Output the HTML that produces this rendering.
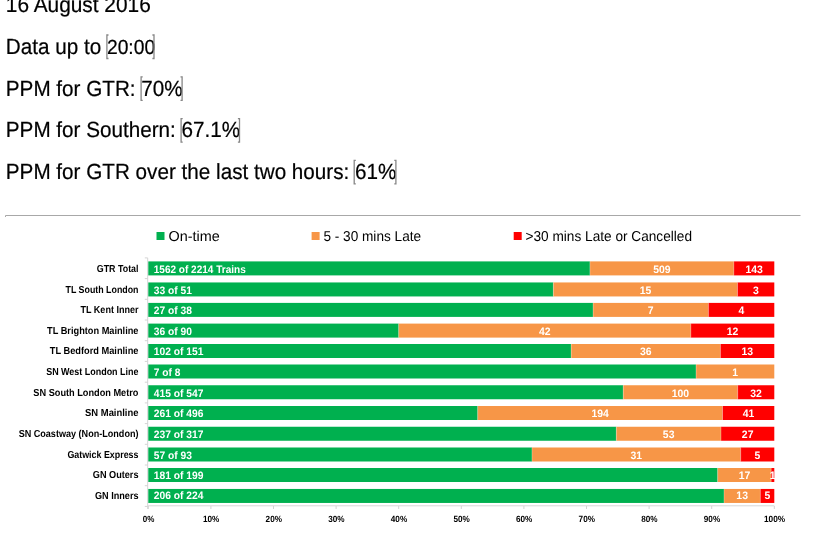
<!DOCTYPE html>
<html><head><meta charset="utf-8"><title>PPM report</title>
<style>html,body{margin:0;padding:0;background:#fff;overflow:hidden}svg{display:block}</style></head>
<body>
<svg width="830" height="540" viewBox="0 0 830 540" font-family="'Liberation Sans', sans-serif" text-rendering="geometricPrecision">
<defs><filter id="soft" x="0" y="0" width="830" height="540" filterUnits="userSpaceOnUse"><feGaussianBlur stdDeviation="0.38"/></filter><filter id="soft2" x="0" y="0" width="830" height="230" filterUnits="userSpaceOnUse"><feGaussianBlur stdDeviation="0.3"/></filter></defs>
<rect width="830" height="540" fill="#fff"/>
<g filter="url(#soft2)">
<g font-size="21.9" fill="#000" stroke="#000" stroke-width="0.22">
<text transform="translate(5.8,11.9) scale(0.9528,1)">16 August 2016</text>
<text transform="translate(5.8,53.7) scale(0.9444,1)">Data up to <tspan font-size="20.4">20:00</tspan></text>
<text transform="translate(5.8,95.5) scale(0.9444,1)">PPM for GTR: 70%</text>
<text transform="translate(5.8,137.3) scale(0.9444,1)">PPM for Southern: 67.1%</text>
<text transform="translate(5.8,179.1) scale(0.9444,1)">PPM for GTR over the last two hours: 61%</text>
</g>
<path d="M108.5 35.0H106.9V58.5H108.5" fill="none" stroke="#878787" stroke-width="1.3"/>
<path d="M152.4 35.0H154.0V58.5H152.4" fill="none" stroke="#878787" stroke-width="1.3"/>
<path d="M142.7 76.8H141.1V100.3H142.7" fill="none" stroke="#878787" stroke-width="1.3"/>
<path d="M180.5 76.8H182.1V100.3H180.5" fill="none" stroke="#878787" stroke-width="1.3"/>
<path d="M182.7 118.6H181.1V142.1H182.7" fill="none" stroke="#878787" stroke-width="1.3"/>
<path d="M237.9 118.6H239.5V142.1H237.9" fill="none" stroke="#878787" stroke-width="1.3"/>
<path d="M355.8 160.4H354.2V183.9H355.8" fill="none" stroke="#878787" stroke-width="1.3"/>
<path d="M394.3 160.4H395.9V183.9H394.3" fill="none" stroke="#878787" stroke-width="1.3"/>
<path d="M5.5 217V215.5H800.5" stroke="#a8a8a8" stroke-width="1" fill="none"/>
</g>
<g id="chart" filter="url(#soft)">
<rect x="156.5" y="232" width="8" height="8" fill="#00b050"/>
<text x="168.50" y="240.90" text-anchor="start" font-size="14.3" font-weight="normal" fill="#000" textLength="51.19" lengthAdjust="spacingAndGlyphs">On-time</text>
<rect x="311.6" y="232" width="8" height="8" fill="#f79646"/>
<text x="323.40" y="240.90" text-anchor="start" font-size="14.3" font-weight="normal" fill="#000" textLength="97.69" lengthAdjust="spacingAndGlyphs">5 - 30 mins Late</text>
<rect x="513.7" y="232" width="8" height="8" fill="#ff0000"/>
<text x="525.50" y="240.90" text-anchor="start" font-size="14.3" font-weight="normal" fill="#000" textLength="166.53" lengthAdjust="spacingAndGlyphs">&gt;30 mins Late or Cancelled</text>
<path d="M147.7 257.9V509" stroke="#d4d4d4" stroke-width="1" fill="none"/>
<path d="M147.7 505.8H774.3" stroke="#d8d8d8" stroke-width="1" fill="none"/>
<path d="M144.8 257.9H147.7M144.8 278.6H147.7M144.8 299.3H147.7M144.8 320.0H147.7M144.8 340.7H147.7M144.8 361.4H147.7M144.8 382.2H147.7M144.8 402.9H147.7M144.8 423.6H147.7M144.8 444.3H147.7M144.8 465.0H147.7M144.8 485.7H147.7M144.8 506.4H147.7M148.3 506V509M210.9 506V509M273.5 506V509M336.1 506V509M398.7 506V509M461.3 506V509M523.9 506V509M586.5 506V509M649.1 506V509M711.7 506V509M774.3 506V509" stroke="#d4d4d4" stroke-width="1" fill="none"/>
<text x="148.60" y="522.00" text-anchor="middle" font-size="9.0" font-weight="bold" fill="#000" textLength="11.61" lengthAdjust="spacingAndGlyphs">0%</text>
<text x="211.20" y="522.00" text-anchor="middle" font-size="9.0" font-weight="bold" fill="#000" textLength="16.38" lengthAdjust="spacingAndGlyphs">10%</text>
<text x="273.80" y="522.00" text-anchor="middle" font-size="9.0" font-weight="bold" fill="#000" textLength="16.38" lengthAdjust="spacingAndGlyphs">20%</text>
<text x="336.40" y="522.00" text-anchor="middle" font-size="9.0" font-weight="bold" fill="#000" textLength="16.38" lengthAdjust="spacingAndGlyphs">30%</text>
<text x="399.00" y="522.00" text-anchor="middle" font-size="9.0" font-weight="bold" fill="#000" textLength="16.38" lengthAdjust="spacingAndGlyphs">40%</text>
<text x="461.60" y="522.00" text-anchor="middle" font-size="9.0" font-weight="bold" fill="#000" textLength="16.38" lengthAdjust="spacingAndGlyphs">50%</text>
<text x="524.20" y="522.00" text-anchor="middle" font-size="9.0" font-weight="bold" fill="#000" textLength="16.38" lengthAdjust="spacingAndGlyphs">60%</text>
<text x="586.80" y="522.00" text-anchor="middle" font-size="9.0" font-weight="bold" fill="#000" textLength="16.38" lengthAdjust="spacingAndGlyphs">70%</text>
<text x="649.40" y="522.00" text-anchor="middle" font-size="9.0" font-weight="bold" fill="#000" textLength="16.38" lengthAdjust="spacingAndGlyphs">80%</text>
<text x="712.00" y="522.00" text-anchor="middle" font-size="9.0" font-weight="bold" fill="#000" textLength="16.38" lengthAdjust="spacingAndGlyphs">90%</text>
<text x="774.60" y="522.00" text-anchor="middle" font-size="9.0" font-weight="bold" fill="#000" textLength="21.14" lengthAdjust="spacingAndGlyphs">100%</text>
<rect x="148.30" y="261.40" width="441.65" height="14.0" fill="#00b050"/>
<rect x="589.95" y="261.40" width="143.92" height="14.0" fill="#f79646"/>
<rect x="733.87" y="261.40" width="40.43" height="14.0" fill="#ff0000"/>
<text x="138.50" y="272.00" text-anchor="end" font-size="10.2" font-weight="bold" fill="#000" textLength="41.73" lengthAdjust="spacingAndGlyphs">GTR Total</text>
<text x="153.80" y="273.00" text-anchor="start" font-size="10.8" font-weight="bold" fill="#fff" textLength="91.92" lengthAdjust="spacingAndGlyphs">1562 of 2214 Trains</text>
<text x="661.91" y="273.00" text-anchor="middle" font-size="10.8" font-weight="bold" fill="#fff" textLength="17.39" lengthAdjust="spacingAndGlyphs">509</text>
<text x="754.08" y="273.00" text-anchor="middle" font-size="10.8" font-weight="bold" fill="#fff" textLength="17.39" lengthAdjust="spacingAndGlyphs">143</text>
<rect x="148.30" y="282.45" width="405.06" height="14.0" fill="#00b050"/>
<rect x="553.36" y="282.45" width="184.12" height="14.0" fill="#f79646"/>
<rect x="737.48" y="282.45" width="36.82" height="14.0" fill="#ff0000"/>
<text x="138.50" y="293.00" text-anchor="end" font-size="10.2" font-weight="bold" fill="#000" textLength="73.00" lengthAdjust="spacingAndGlyphs">TL South London</text>
<text x="153.80" y="294.00" text-anchor="start" font-size="10.8" font-weight="bold" fill="#fff" textLength="38.12" lengthAdjust="spacingAndGlyphs">33 of 51</text>
<text x="645.42" y="294.00" text-anchor="middle" font-size="10.8" font-weight="bold" fill="#fff" textLength="11.59" lengthAdjust="spacingAndGlyphs">15</text>
<text x="755.89" y="294.00" text-anchor="middle" font-size="10.8" font-weight="bold" fill="#fff" textLength="5.80" lengthAdjust="spacingAndGlyphs">3</text>
<rect x="148.30" y="302.90" width="444.79" height="14.0" fill="#00b050"/>
<rect x="593.09" y="302.90" width="115.32" height="14.0" fill="#f79646"/>
<rect x="708.41" y="302.90" width="65.89" height="14.0" fill="#ff0000"/>
<text x="138.50" y="313.00" text-anchor="end" font-size="10.2" font-weight="bold" fill="#000" textLength="58.02" lengthAdjust="spacingAndGlyphs">TL Kent Inner</text>
<text x="153.80" y="314.00" text-anchor="start" font-size="10.8" font-weight="bold" fill="#fff" textLength="38.12" lengthAdjust="spacingAndGlyphs">27 of 38</text>
<text x="650.75" y="314.00" text-anchor="middle" font-size="10.8" font-weight="bold" fill="#fff" textLength="5.80" lengthAdjust="spacingAndGlyphs">7</text>
<text x="741.35" y="314.00" text-anchor="middle" font-size="10.8" font-weight="bold" fill="#fff" textLength="5.80" lengthAdjust="spacingAndGlyphs">4</text>
<rect x="148.30" y="323.60" width="250.40" height="14.0" fill="#00b050"/>
<rect x="398.70" y="323.60" width="292.13" height="14.0" fill="#f79646"/>
<rect x="690.83" y="323.60" width="83.47" height="14.0" fill="#ff0000"/>
<text x="138.50" y="334.00" text-anchor="end" font-size="10.2" font-weight="bold" fill="#000" textLength="91.41" lengthAdjust="spacingAndGlyphs">TL Brighton Mainline</text>
<text x="153.80" y="335.00" text-anchor="start" font-size="10.8" font-weight="bold" fill="#fff" textLength="38.12" lengthAdjust="spacingAndGlyphs">36 of 90</text>
<text x="544.77" y="335.00" text-anchor="middle" font-size="10.8" font-weight="bold" fill="#fff" textLength="11.59" lengthAdjust="spacingAndGlyphs">42</text>
<text x="732.57" y="335.00" text-anchor="middle" font-size="10.8" font-weight="bold" fill="#fff" textLength="11.59" lengthAdjust="spacingAndGlyphs">12</text>
<rect x="148.30" y="344.00" width="422.86" height="14.0" fill="#00b050"/>
<rect x="571.16" y="344.00" width="149.25" height="14.0" fill="#f79646"/>
<rect x="720.41" y="344.00" width="53.89" height="14.0" fill="#ff0000"/>
<text x="138.50" y="354.00" text-anchor="end" font-size="10.2" font-weight="bold" fill="#000" textLength="88.72" lengthAdjust="spacingAndGlyphs">TL Bedford Mainline</text>
<text x="153.80" y="355.00" text-anchor="start" font-size="10.8" font-weight="bold" fill="#fff" textLength="49.72" lengthAdjust="spacingAndGlyphs">102 of 151</text>
<text x="645.78" y="355.00" text-anchor="middle" font-size="10.8" font-weight="bold" fill="#fff" textLength="11.59" lengthAdjust="spacingAndGlyphs">36</text>
<text x="747.35" y="355.00" text-anchor="middle" font-size="10.8" font-weight="bold" fill="#fff" textLength="11.59" lengthAdjust="spacingAndGlyphs">13</text>
<rect x="148.30" y="364.50" width="547.75" height="14.0" fill="#00b050"/>
<rect x="696.05" y="364.50" width="78.25" height="14.0" fill="#f79646"/>
<text x="138.50" y="375.00" text-anchor="end" font-size="10.2" font-weight="bold" fill="#000" textLength="92.33" lengthAdjust="spacingAndGlyphs">SN West London Line</text>
<text x="153.80" y="376.00" text-anchor="start" font-size="10.8" font-weight="bold" fill="#fff" textLength="26.53" lengthAdjust="spacingAndGlyphs">7 of 8</text>
<text x="735.17" y="376.00" text-anchor="middle" font-size="10.8" font-weight="bold" fill="#fff" textLength="5.80" lengthAdjust="spacingAndGlyphs">1</text>
<rect x="148.30" y="385.25" width="474.94" height="14.0" fill="#00b050"/>
<rect x="623.24" y="385.25" width="114.44" height="14.0" fill="#f79646"/>
<rect x="737.68" y="385.25" width="36.62" height="14.0" fill="#ff0000"/>
<text x="138.50" y="396.00" text-anchor="end" font-size="10.2" font-weight="bold" fill="#000" textLength="105.16" lengthAdjust="spacingAndGlyphs">SN South London Metro</text>
<text x="153.80" y="397.00" text-anchor="start" font-size="10.8" font-weight="bold" fill="#fff" textLength="49.72" lengthAdjust="spacingAndGlyphs">415 of 547</text>
<text x="680.46" y="397.00" text-anchor="middle" font-size="10.8" font-weight="bold" fill="#fff" textLength="17.39" lengthAdjust="spacingAndGlyphs">100</text>
<text x="755.99" y="397.00" text-anchor="middle" font-size="10.8" font-weight="bold" fill="#fff" textLength="11.59" lengthAdjust="spacingAndGlyphs">32</text>
<rect x="148.30" y="406.00" width="329.41" height="14.0" fill="#00b050"/>
<rect x="477.71" y="406.00" width="244.85" height="14.0" fill="#f79646"/>
<rect x="722.55" y="406.00" width="51.75" height="14.0" fill="#ff0000"/>
<text x="138.50" y="416.00" text-anchor="end" font-size="10.2" font-weight="bold" fill="#000" textLength="53.41" lengthAdjust="spacingAndGlyphs">SN Mainline</text>
<text x="153.80" y="417.00" text-anchor="start" font-size="10.8" font-weight="bold" fill="#fff" textLength="49.72" lengthAdjust="spacingAndGlyphs">261 of 496</text>
<text x="600.13" y="417.00" text-anchor="middle" font-size="10.8" font-weight="bold" fill="#fff" textLength="17.39" lengthAdjust="spacingAndGlyphs">194</text>
<text x="748.43" y="417.00" text-anchor="middle" font-size="10.8" font-weight="bold" fill="#fff" textLength="11.59" lengthAdjust="spacingAndGlyphs">41</text>
<rect x="148.30" y="426.75" width="468.02" height="14.0" fill="#00b050"/>
<rect x="616.32" y="426.75" width="104.66" height="14.0" fill="#f79646"/>
<rect x="720.98" y="426.75" width="53.32" height="14.0" fill="#ff0000"/>
<text x="138.50" y="437.00" text-anchor="end" font-size="10.2" font-weight="bold" fill="#000" textLength="119.86" lengthAdjust="spacingAndGlyphs">SN Coastway (Non-London)</text>
<text x="153.80" y="438.00" text-anchor="start" font-size="10.8" font-weight="bold" fill="#fff" textLength="49.72" lengthAdjust="spacingAndGlyphs">237 of 317</text>
<text x="668.65" y="438.00" text-anchor="middle" font-size="10.8" font-weight="bold" fill="#fff" textLength="11.59" lengthAdjust="spacingAndGlyphs">53</text>
<text x="747.64" y="438.00" text-anchor="middle" font-size="10.8" font-weight="bold" fill="#fff" textLength="11.59" lengthAdjust="spacingAndGlyphs">27</text>
<rect x="148.30" y="447.50" width="383.68" height="14.0" fill="#00b050"/>
<rect x="531.98" y="447.50" width="208.67" height="14.0" fill="#f79646"/>
<rect x="740.64" y="447.50" width="33.66" height="14.0" fill="#ff0000"/>
<text x="138.50" y="458.00" text-anchor="end" font-size="10.2" font-weight="bold" fill="#000" textLength="71.11" lengthAdjust="spacingAndGlyphs">Gatwick Express</text>
<text x="153.80" y="459.00" text-anchor="start" font-size="10.8" font-weight="bold" fill="#fff" textLength="38.12" lengthAdjust="spacingAndGlyphs">57 of 93</text>
<text x="636.31" y="459.00" text-anchor="middle" font-size="10.8" font-weight="bold" fill="#fff" textLength="11.59" lengthAdjust="spacingAndGlyphs">31</text>
<text x="757.47" y="459.00" text-anchor="middle" font-size="10.8" font-weight="bold" fill="#fff" textLength="5.80" lengthAdjust="spacingAndGlyphs">5</text>
<rect x="148.30" y="468.00" width="569.38" height="14.0" fill="#00b050"/>
<rect x="717.68" y="468.00" width="53.48" height="14.0" fill="#f79646"/>
<rect x="771.15" y="468.00" width="3.15" height="14.0" fill="#ff0000"/>
<text x="138.50" y="478.00" text-anchor="end" font-size="10.2" font-weight="bold" fill="#000" textLength="45.72" lengthAdjust="spacingAndGlyphs">GN Outers</text>
<text x="153.80" y="479.00" text-anchor="start" font-size="10.8" font-weight="bold" fill="#fff" textLength="49.72" lengthAdjust="spacingAndGlyphs">181 of 199</text>
<text x="744.42" y="479.00" text-anchor="middle" font-size="10.8" font-weight="bold" fill="#fff" textLength="11.59" lengthAdjust="spacingAndGlyphs">17</text>
<text x="772.73" y="479.00" text-anchor="middle" font-size="10.8" font-weight="bold" fill="#fff" textLength="5.80" lengthAdjust="spacingAndGlyphs">1</text>
<rect x="148.30" y="488.95" width="575.70" height="14.0" fill="#00b050"/>
<rect x="724.00" y="488.95" width="36.33" height="14.0" fill="#f79646"/>
<rect x="760.33" y="488.95" width="13.97" height="14.0" fill="#ff0000"/>
<text x="138.50" y="499.00" text-anchor="end" font-size="10.2" font-weight="bold" fill="#000" textLength="43.52" lengthAdjust="spacingAndGlyphs">GN Inners</text>
<text x="153.80" y="499.00" text-anchor="start" font-size="10.8" font-weight="bold" fill="#fff" textLength="49.72" lengthAdjust="spacingAndGlyphs">206 of 224</text>
<text x="742.16" y="499.00" text-anchor="middle" font-size="10.8" font-weight="bold" fill="#fff" textLength="11.59" lengthAdjust="spacingAndGlyphs">13</text>
<text x="767.31" y="499.00" text-anchor="middle" font-size="10.8" font-weight="bold" fill="#fff" textLength="5.80" lengthAdjust="spacingAndGlyphs">5</text>
<path d="M589.95 261.40v14.0M733.87 261.40v14.0M553.36 282.45v14.0M737.48 282.45v14.0M593.09 302.90v14.0M708.41 302.90v14.0M398.70 323.60v14.0M690.83 323.60v14.0M571.16 344.00v14.0M720.41 344.00v14.0M696.05 364.50v14.0M623.24 385.25v14.0M737.68 385.25v14.0M477.71 406.00v14.0M722.55 406.00v14.0M616.32 426.75v14.0M720.98 426.75v14.0M531.98 447.50v14.0M740.64 447.50v14.0M717.68 468.00v14.0M771.15 468.00v14.0M724.00 488.95v14.0M760.33 488.95v14.0" stroke="#fff" stroke-opacity="0.28" stroke-width="1" fill="none"/>
</g>
</svg>
</body></html>
